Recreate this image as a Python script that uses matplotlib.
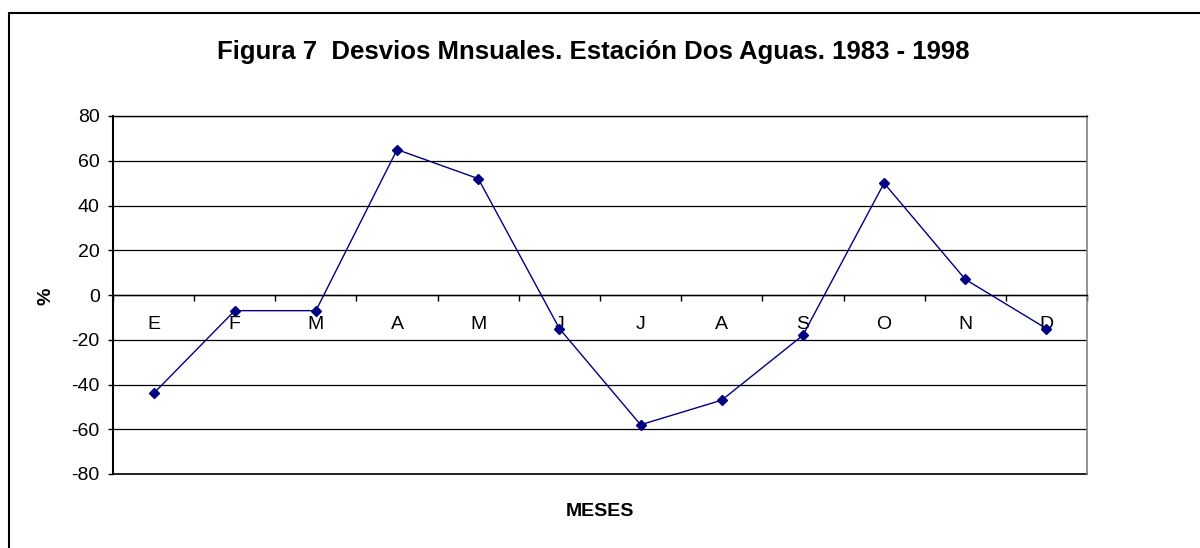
import matplotlib.pyplot as plt
import matplotlib.patches as patches
import numpy as np

plt.rcParams['font.family'] = ['Liberation Sans', 'DejaVu Sans']
plt.rcParams['axes.unicode_minus'] = False

meses = ['E', 'F', 'M', 'A', 'M', 'J', 'J', 'A', 'S', 'O', 'N', 'D']
desvios = [-44, -7, -7, 65, 52, -15, -58, -47, -18, 50, 7, -15]
y_ticks = [-80, -60, -40, -20, 0, 20, 40, 60, 80]

fig = plt.figure(figsize=(12, 5.48), dpi=100)
ax = fig.add_axes([113/1200, 1-474/548, (1087-113)/1200, (474-116)/548])

x = np.arange(len(meses))
ax.plot(x, desvios, color='#000080', lw=1, marker='D', ms=5, zorder=3)

ax.set_xlim(-0.5, len(meses) - 0.5)
ax.set_ylim(-80, 80)
ax.set_yticks(y_ticks)
ax.yaxis.grid(True, color='black', lw=0.9)
ax.axhline(-80, color='black', lw=1.2, clip_on=False)
ax.set_axisbelow(True)

# category boundaries as ticks, labels at centres
ax.set_xticks(np.arange(-0.5, len(meses), 1))
ax.set_xticklabels([])
ax.set_xticks(x, minor=True)
ax.set_xticklabels(meses, minor=True)
ax.tick_params(axis='x', which='major', direction='out', length=4.5, width=1, color='black')
ax.tick_params(axis='x', which='minor', length=0, pad=15, labelsize=14)
ax.tick_params(axis='y', direction='out', length=3.6, width=1, labelsize=14, pad=6)

ax.spines['bottom'].set_position(('data', 0))
ax.spines['bottom'].set_linewidth(1)
ax.spines['left'].set_linewidth(1.5)
ax.spines['top'].set_color('black')
ax.spines['top'].set_linewidth(1)
ax.spines['right'].set_color('#808080')
ax.spines['right'].set_linewidth(1.2)

fig.text(593/1200, 1-52/548, 'Figura 7  Desvios Mnsuales. Estación Dos Aguas. 1983 - 1998',
         ha='center', va='center', fontsize=18.5, fontweight='bold')
fig.text(600/1200, 1-511/548, 'MESES', ha='center', va='center',
         fontsize=14, fontweight='bold')
fig.text(46/1200, 1-296/548, '%', ha='center', va='center', rotation=90,
         fontsize=14, fontweight='bold')

fig.patches.append(patches.Rectangle((9/1200, -0.1), 1.2, 1-13/548+0.1,
                                     transform=fig.transFigure, fill=False,
                                     edgecolor='black', lw=1.5))

fig.savefig('out.png', dpi=100)
